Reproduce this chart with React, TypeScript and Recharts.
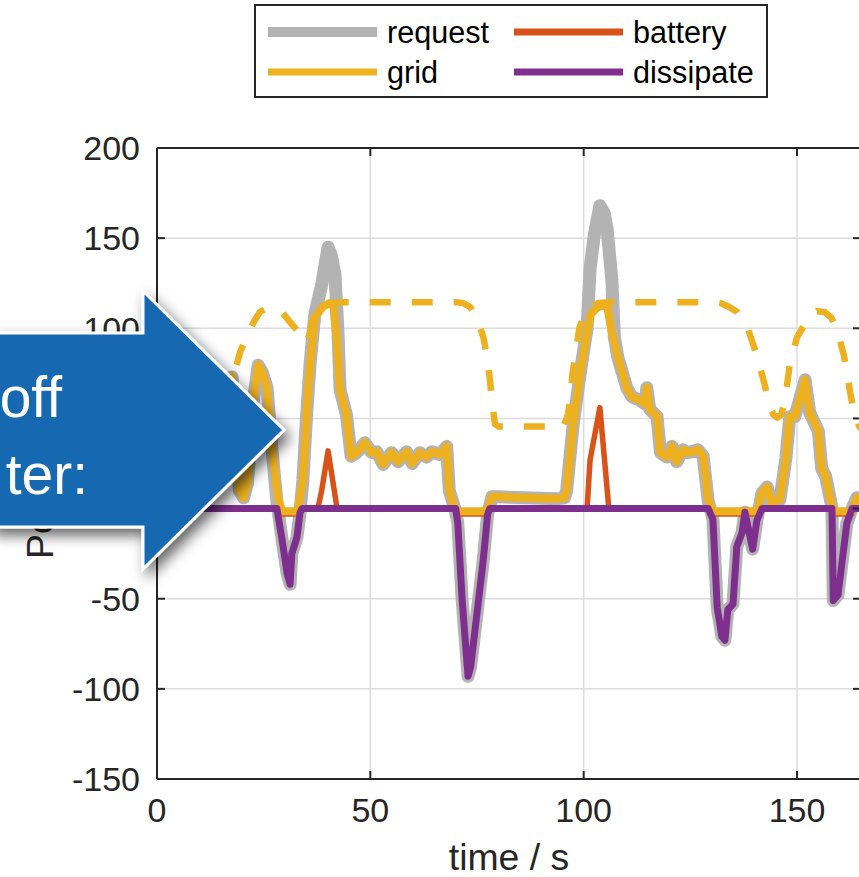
import React from "react";
import { LineChart, Line, XAxis, YAxis, CartesianGrid, ReferenceLine } from "recharts";

// time / s  ->  power / kW
const timeTicks = [0, 50, 100, 150];
const powerTicks = [-150, -100, -50, 0, 50, 100, 150, 200];

const request: [number, number][] = [
  [0, 0], [3, 0], [4.5, 20], [6, 45], [8, 62], [10, 70], [12, 72], [14, 69], [16, 71], [17.6, 73],
  [18.5, 40], [19.3, 10], [20.3, 6], [21.2, 14], [22.5, 58], [23.7, 79.5], [24.6, 76], [25.8, 67],
  [26.9, 34], [28.1, 4], [29.3, -17], [30.5, -36], [31.2, -42], [31.6, -25], [32.8, -16], [33.5, -2.5],
  [34.2, 16], [35.1, 53], [35.9, 81], [37, 108], [38.6, 124], [39.3, 134], [40.1, 145], [40.9, 140],
  [41.7, 130], [42.4, 99], [42.9, 66], [44.4, 52], [45.5, 29], [46.8, 31], [48.7, 36.5], [50.3, 31],
  [51.5, 31.5], [53, 24.5], [55, 31], [56.5, 26], [58.5, 31.5], [59.8, 25], [61.6, 31], [63.2, 28.6],
  [64.4, 31.5], [66.3, 30], [67.9, 34.5], [68.5, 10], [69.8, 0], [70.5, -8], [71.5, -50], [72.9, -93],
  [73.5, -88], [74.5, -68], [76.4, -30], [77.5, -3], [78.5, 6.5], [80, 6.5], [86, 6], [94, 5.5],
  [95.5, 6], [96, 10], [97.6, 48], [99.5, 80], [100.8, 100], [101.5, 133], [102.5, 152], [103.8, 168],
  [104.8, 164], [105.5, 155], [106.6, 127], [107.2, 95], [108, 84], [110.1, 67], [111.3, 62],
  [113.2, 60], [114.4, 58], [114.8, 67], [115.5, 55], [117.2, 51], [118, 31], [119.5, 28.6],
  [120.7, 34.5], [121.8, 26], [123.3, 32.6], [124.4, 31], [126.8, 32.6], [128, 29], [129.2, 4],
  [130.3, -6], [131.3, -55], [132.4, -71], [133.1, -73], [133.8, -56], [135, -53], [135.9, -21],
  [137.1, -13.6], [137.8, -2], [139.6, -22.5], [140.6, -6.5], [141.8, 8.6], [143, 12], [144, 3.6],
  [146, 5], [147.4, 28], [148.3, 51], [149.5, 51], [151.9, 71.4], [153, 53], [155, 43], [155.8, 22],
  [156.7, 18], [157.7, 6.5], [158.2, 0], [158.5, -51], [159.6, -48], [160.8, -25], [161.7, -8],
  [162.9, 0], [164, 6], [165, 6],
];

const grid: [number, number][] = [
  [0, -1.5], [3, -1.5], [4.5, 20], [6, 45], [8, 62], [10, 70], [12, 72], [14, 69], [16, 71], [17.6, 73],
  [18.5, 40], [19.3, 10], [20.3, 6], [21.2, 14], [22.5, 58], [23.7, 79.5], [24.6, 76], [25.8, 67],
  [26.9, 34], [28.4, 6], [29.3, -1.5], [33, -1.5], [34.2, 16], [35.1, 53], [35.9, 81], [37, 106],
  [38.9, 112], [40.5, 114], [41.3, 113], [42.1, 95], [42.9, 66], [44.4, 52], [45.5, 29], [46.8, 31],
  [48.7, 36.5], [50.3, 31], [51.5, 31.5], [53, 24.5], [55, 31], [56.5, 26], [58.5, 31.5], [59.8, 25],
  [61.6, 31], [63.2, 28.6], [64.4, 31.5], [66.3, 30], [67.9, 34.5], [68.5, 10], [69.8, 0], [70.5, -1.5],
  [77.3, -1.5], [78.5, 6.5], [80, 6.5], [86, 6], [94, 5.5], [95.5, 6], [96, 10], [97.6, 48], [99.5, 80],
  [100.8, 97], [101.7, 108], [103, 111], [104, 112.5], [105.5, 112], [106.5, 99], [108, 84],
  [110.1, 67], [111.3, 62], [113.2, 60], [114.4, 58], [114.8, 67], [115.5, 55], [117.2, 51], [118, 31],
  [119.5, 28.6], [120.7, 34.5], [121.8, 26], [123.3, 32.6], [124.4, 31], [126.8, 32.6], [128, 29],
  [129.2, 5], [130.3, -1.5], [140.6, -1.5], [141.8, 8.6], [143, 12], [144, 3.6], [146, 5], [147.4, 28],
  [148.3, 51], [149.5, 51], [151.9, 71.4], [153, 53], [155, 43], [155.8, 22], [156.7, 18], [157.7, 6.5],
  [158.4, -1.5], [162.9, -1.5], [164, 6], [165, 6],
];

const battery: [number, number][] = [
  [0, 0], [28.4, 0], [29.3, -3], [33, -3], [34, 0], [37.7, 0], [38.6, 10], [40.1, 32], [42.2, 0],
  [69.8, 0], [70.5, -3], [77.3, -3], [78.3, 0], [100.8, 0], [101.5, 27], [103.8, 56], [105.9, 0],
  [129.6, 0], [130.3, -3], [140.6, -3], [141.5, 0], [158.2, 0], [158.6, -3], [162.9, -3], [163.6, 0],
  [165, 0],
];

const dissipate: [number, number][] = [
  [0, 0], [28.1, 0], [29.3, -17], [30.5, -36], [31.2, -42], [31.6, -25], [32.8, -16], [33.5, -2.5],
  [34, 0], [70, 0], [70.5, -8], [71.5, -50], [72.9, -93], [73.5, -88], [74.5, -68], [76.4, -30],
  [77.5, -3], [78, 0], [129.2, 0], [130.3, -6], [131.3, -55], [132.4, -71], [133.1, -73], [133.8, -56],
  [135, -53], [135.9, -21], [137.1, -13.6], [137.8, -2], [139.6, -22.5], [140.6, -6.5], [141.8, 0],
  [158.2, 0], [158.5, -51], [159.6, -48], [160.8, -25], [161.7, -8], [162.9, 0], [165, 0],
];

// dashed grid limit (not in legend)
const gridLimit: [number, number][] = [
  [0, 45], [14, 45], [15.5, 50], [17, 62], [18.5, 78], [19.5, 87], [21.3, 97], [22.8, 104], [24.1, 109],
  [25.5, 111], [27, 111.5], [28.3, 110.5], [29.3, 109], [31, 104], [32.8, 99], [34, 93], [35, 92.5],
  [35.8, 97], [36.6, 107], [38.5, 111.5], [40.5, 113.5], [43, 114.5], [70, 114.5], [71.7, 114],
  [73.3, 112], [74.5, 108], [75.5, 102], [76.5, 95], [77.3, 85], [78, 72], [78.6, 58], [79.2, 47],
  [80, 45.5], [95.3, 45.5], [96.3, 52], [96.8, 60], [97.4, 75], [98.2, 88], [99, 100], [100, 107],
  [101.5, 112], [103.5, 114], [106, 114.5], [130, 114.5], [132, 114], [134, 112], [136, 109],
  [138.3, 101], [140.6, 85], [142.5, 68], [143.7, 56], [144.5, 52], [145.4, 50.5], [146.3, 52],
  [147.2, 60], [148.3, 80], [150, 95], [151.5, 101], [152.6, 105], [154.7, 109.5], [156.5, 109],
  [158, 106], [159.4, 99], [161, 85], [162.5, 64], [163.6, 50], [165, 44],
];

const legendItems = [
  { name: "request", color: "#B3B3B3", width: 10 },
  { name: "battery", color: "#D95319", width: 7 },
  { name: "grid", color: "#EDB120", width: 7 },
  { name: "dissipate", color: "#7E2F8E", width: 7 },
];

const rows = (pts: [number, number][]) => pts.map(([t, v]) => ({ t, v }));

const FONT = "'Liberation Sans', Arial, Helvetica, sans-serif";
const INK = "#262626";
const PLOT = { left: 157, right: 861, top: 148, bottom: 779 };

const YTick = (props: any) => {
  const { y, payload } = props;
  return (
    <g>
      <line x1={PLOT.left} x2={PLOT.left + 8} y1={y} y2={y} stroke={INK} strokeWidth={2} />
      <line x1={PLOT.right - 8} x2={PLOT.right} y1={y} y2={y} stroke={INK} strokeWidth={2} />
      <text x={PLOT.left - 17} y={y} dy="0.36em" textAnchor="end" fontSize={34} fontFamily={FONT} fill={INK}>
        {payload.value}
      </text>
    </g>
  );
};

const XTick = (props: any) => {
  const { x, payload } = props;
  return (
    <g>
      <line x1={x} x2={x} y1={PLOT.bottom} y2={PLOT.bottom - 8} stroke={INK} strokeWidth={2} />
      <line x1={x} x2={x} y1={PLOT.top} y2={PLOT.top + 8} stroke={INK} strokeWidth={2} />
      <text x={x} y={PLOT.bottom + 43} textAnchor="middle" fontSize={34} fontFamily={FONT} fill={INK}>
        {payload.value}
      </text>
    </g>
  );
};

function Overlay() {
  return (
    <svg width={859} height={877} style={{ position: "absolute", left: 0, top: 0, pointerEvents: "none" }}>
      <defs>
        <filter id="arrowShadow" x="-30%" y="-30%" width="160%" height="160%">
          <feDropShadow dx="5" dy="7" stdDeviation="7" floodColor="#000" floodOpacity="0.6" />
        </filter>
      </defs>

      {/* legend */}
      <rect x={255} y={5} width={512} height={92} fill="#fff" stroke={INK} strokeWidth={2} />
      {legendItems.map((item, i) => {
        const col = i % 2;
        const row = Math.floor(i / 2);
        const x0 = col === 0 ? 268 : 514;
        const cy = row === 0 ? 32 : 72;
        return (
          <g key={item.name}>
            <line x1={x0} x2={x0 + 109} y1={cy} y2={cy} stroke={item.color} strokeWidth={item.width} />
            <text x={x0 + 119} y={cy} dy="0.36em" fontSize={30.6} fontFamily={FONT} fill="#000">
              {item.name}
            </text>
          </g>
        );
      })}

      {/* slide arrow on top of the figure */}
      <polygon
        points="-10,333 143,333 143,291 284,430 143,569 143,527 -10,527"
        fill="#1569B0"
        stroke="#fff"
        strokeWidth={3}
        filter="url(#arrowShadow)"
      />
      <text x={62} y={417} textAnchor="end" fontSize={57} fontFamily={FONT} fill="#fff">off</text>
      <text x={88} y={494} textAnchor="end" fontSize={57} fontFamily={FONT} fill="#fff">ter:</text>
    </svg>
  );
}

export default function App() {
  return (
    <div style={{ position: "absolute", left: 0, top: 0, width: 859, height: 877, overflow: "hidden", background: "#fff" }}>
      <LineChart width={900} height={877} margin={{ top: 148, right: 39, bottom: 0, left: 0 }}>
        <CartesianGrid stroke="#dcdcdc" strokeWidth={1.5} />
        <XAxis
          dataKey="t"
          type="number"
          domain={[0, 165]}
          ticks={timeTicks}
          interval={0}
          height={98}
          tick={<XTick />}
          tickLine={false}
          axisLine={{ stroke: INK, strokeWidth: 2 }}
          allowDataOverflow
        />
        <YAxis
          type="number"
          domain={[-150, 200]}
          ticks={powerTicks}
          interval={0}
          width={157}
          tick={<YTick />}
          tickLine={false}
          axisLine={{ stroke: INK, strokeWidth: 2 }}
          allowDataOverflow
        />
        <ReferenceLine y={200} stroke={INK} strokeWidth={2} />
        <ReferenceLine x={165} stroke={INK} strokeWidth={2} />

        <Line data={rows(request)} dataKey="v" name="request" type="linear" stroke="#B3B3B3" strokeWidth={13}
          strokeLinejoin="round" strokeLinecap="round" dot={false} activeDot={false} isAnimationActive={false} />
        <Line data={rows(gridLimit)} dataKey="v" name="grid limit" type="linear" stroke="#EDB120" strokeWidth={6.5}
          strokeDasharray="21 21" dot={false} activeDot={false} legendType="none" isAnimationActive={false} />
        <Line data={rows(battery)} dataKey="v" name="battery" type="linear" stroke="#D95319" strokeWidth={5.5}
          strokeLinejoin="round" strokeLinecap="round" dot={false} activeDot={false} isAnimationActive={false} />
        <Line data={rows(grid)} dataKey="v" name="grid" type="linear" stroke="#EDB120" strokeWidth={8}
          strokeLinejoin="round" strokeLinecap="round" dot={false} activeDot={false} isAnimationActive={false} />
        <Line data={rows(dissipate)} dataKey="v" name="dissipate" type="linear" stroke="#7E2F8E" strokeWidth={7}
          strokeLinejoin="round" strokeLinecap="round" dot={false} activeDot={false} isAnimationActive={false} />
      </LineChart>

      {/* axis labels */}
      <svg width={859} height={877} style={{ position: "absolute", left: 0, top: 0, pointerEvents: "none" }}>
        <text x={509} y={870} textAnchor="middle" fontSize={37.4} fontFamily={FONT} fill={INK}>time / s</text>
        <text x={53} y={463.5} transform="rotate(-90, 53, 463.5)" textAnchor="middle" fontSize={37.4}
          fontFamily={FONT} fill={INK}>Power / kW</text>
      </svg>

      <Overlay />
    </div>
  );
}
